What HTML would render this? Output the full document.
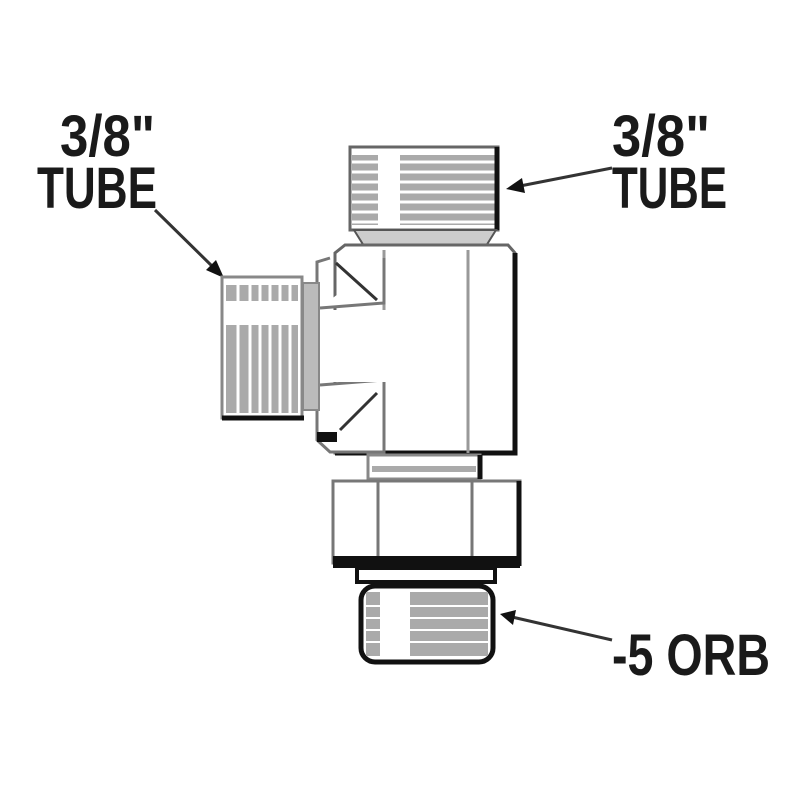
<!DOCTYPE html>
<html><head><style>html,body{margin:0;padding:0;background:#fff}svg{display:block}</style></head>
<body>
<svg width="800" height="800" viewBox="0 0 800 800" xmlns="http://www.w3.org/2000/svg">
<rect width="800" height="800" fill="#fff"/>
<g font-family="Liberation Sans, sans-serif" font-weight="bold" fill="#1a1a1a" font-size="58">
<text x="60" y="156" textLength="95" lengthAdjust="spacingAndGlyphs">3/8"</text>
<text x="37" y="208" textLength="120" lengthAdjust="spacingAndGlyphs">TUBE</text>
<text x="612" y="156" textLength="98" lengthAdjust="spacingAndGlyphs">3/8"</text>
<text x="612" y="208" textLength="115" lengthAdjust="spacingAndGlyphs">TUBE</text>
<text x="612" y="675" textLength="158" lengthAdjust="spacingAndGlyphs">-5 ORB</text>
</g>
<!-- arrows -->
<g stroke="#333" stroke-width="3" fill="#111">
<line x1="155" y1="210" x2="214" y2="268"/>
<polygon points="224,278 206,270 216,260" stroke="none"/>
<line x1="612" y1="168" x2="520" y2="186"/>
<polygon points="506,189 522,178 525,193" stroke="none"/>
<line x1="612" y1="640" x2="512" y2="617"/>
<polygon points="500,614 516,610 513,625" stroke="none"/>
</g>
<g stroke="#111" fill="#fff">
<!-- top nut -->
<rect x="350" y="147" width="148" height="83" fill="#fff" stroke="#666" stroke-width="3"/>
<g fill="#aaa" stroke="none">
<rect x="352" y="155" width="26" height="70"/>
<rect x="400" y="155" width="96" height="70"/>
</g>
<g stroke="#fff" stroke-width="3">
<line x1="352" y1="162" x2="496" y2="162"/><line x1="352" y1="172" x2="496" y2="172"/>
<line x1="352" y1="182" x2="496" y2="182"/><line x1="352" y1="192" x2="496" y2="192"/>
<line x1="352" y1="202" x2="496" y2="202"/><line x1="352" y1="212" x2="496" y2="212"/>
<line x1="352" y1="222" x2="496" y2="222"/>
</g>
<line x1="497" y1="147" x2="497" y2="230" stroke-width="5"/>
<polygon points="354,230 496,230 486,246 364,246" fill="#ccc" stroke="#555" stroke-width="2"/>
<!-- body -->
<path d="M345,245 L508,245 L515,253 L515,453 L335,453 L335,253 Z" fill="#fff" stroke="#666" stroke-width="3"/>
<path d="M515,253 L515,453 L335,453" fill="none" stroke="#111" stroke-width="5"/>
<line x1="384" y1="250" x2="384" y2="453" stroke="#999" stroke-width="3"/>
<line x1="468" y1="250" x2="468" y2="453" stroke="#999" stroke-width="3"/>
<!-- boss -->
<path d="M330,258 L317,262 L317,440 L330,452 L384,452 L384,380 L320,385 M320,308 L384,303 L384,258" fill="#fff" stroke="#777" stroke-width="3"/>
<rect x="318" y="310" width="70" height="72" fill="#fff" stroke="none"/>
<line x1="336" y1="263" x2="377" y2="300" stroke="#333" stroke-width="3"/>
<line x1="340" y1="430" x2="377" y2="393" stroke="#333" stroke-width="3"/>
<rect x="317" y="432" width="20" height="10" fill="#111" stroke="none"/>
<!-- left collar -->
<rect x="303" y="283" width="16" height="127" fill="#bbb" stroke="#888" stroke-width="2"/>
<!-- left nut -->
<rect x="222" y="277" width="80" height="141" fill="#fff" stroke="#888" stroke-width="3"/>
<g fill="#aaa" stroke="none">
<rect x="226" y="285" width="72" height="16"/>
<rect x="226" y="325" width="72" height="88"/>
</g>
<g stroke="#fff" stroke-width="3">
<line x1="238" y1="283" x2="238" y2="415"/><line x1="250" y1="283" x2="250" y2="415"/>
<line x1="260" y1="283" x2="260" y2="415"/><line x1="270" y1="283" x2="270" y2="415"/>
<line x1="280" y1="283" x2="280" y2="415"/><line x1="290" y1="283" x2="290" y2="415"/>
</g>
<line x1="222" y1="418" x2="304" y2="418" stroke-width="5"/>
<!-- neck -->
<rect x="368" y="455" width="112" height="24" fill="#fff" stroke="#888" stroke-width="3"/>
<rect x="372" y="466" width="104" height="6" fill="#aaa" stroke="none"/>
<line x1="480" y1="455" x2="480" y2="479" stroke-width="5"/>
<!-- hex nut -->
<rect x="333" y="481" width="187" height="82" fill="#fff" stroke="#777" stroke-width="3"/>
<line x1="378" y1="481" x2="378" y2="560" stroke="#777" stroke-width="3"/>
<line x1="472" y1="481" x2="472" y2="560" stroke="#777" stroke-width="3"/>
<line x1="519" y1="481" x2="519" y2="566" stroke-width="5"/>
<rect x="333" y="556" width="187" height="12" fill="#111" stroke="none"/>
<!-- washer -->
<rect x="357" y="568" width="138" height="14" fill="#fff" stroke="#111" stroke-width="4"/>
<!-- plug -->
<rect x="361" y="586" width="132" height="76" rx="14" fill="#fff" stroke="#111" stroke-width="5"/>
<g fill="#aaa" stroke="none">
<rect x="366" y="592" width="14" height="64"/>
<rect x="410" y="592" width="78" height="64"/>
</g>
<g stroke="#fff" stroke-width="2">
<line x1="366" y1="606" x2="488" y2="606"/><line x1="366" y1="618" x2="488" y2="618"/>
<line x1="366" y1="630" x2="488" y2="630"/><line x1="366" y1="642" x2="488" y2="642"/>
</g>
</g>
</svg>
</body></html>
